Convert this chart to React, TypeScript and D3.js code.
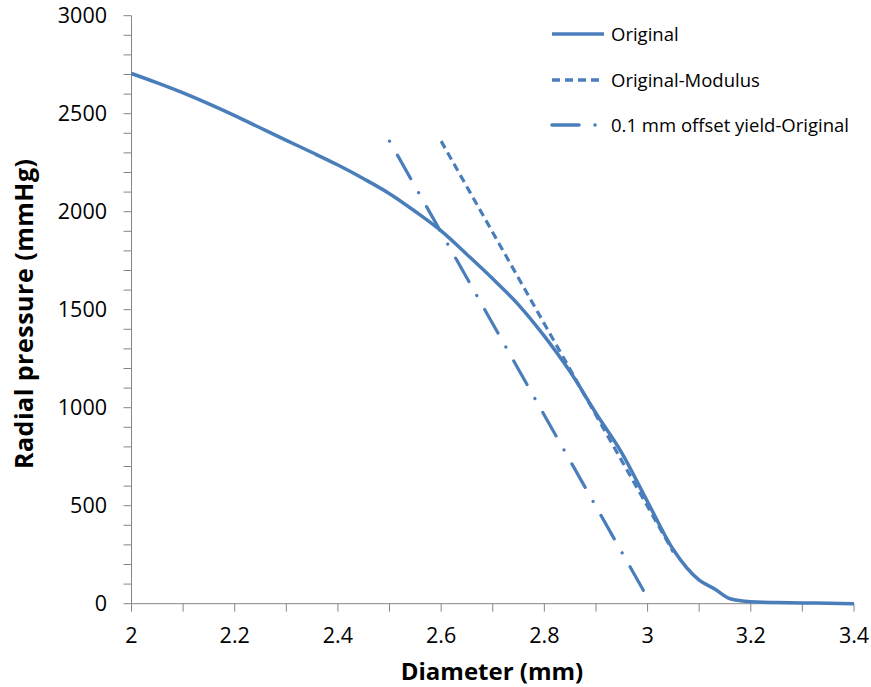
import React from "react";
import * as d3 from "d3";

const diameter = [2.0, 2.05, 2.1, 2.15, 2.2, 2.25, 2.3, 2.35, 2.4, 2.45, 2.5, 2.55, 2.6, 2.65, 2.7, 2.75, 2.8, 2.85, 2.9, 2.95, 3.0, 3.05, 3.1, 3.13, 3.16, 3.2, 3.25, 3.3, 3.35, 3.4];
const pressure = [2705, 2657, 2606, 2550, 2490, 2427, 2364, 2302, 2238, 2168, 2092, 2001, 1902, 1782, 1658, 1525, 1365, 1183, 972, 770, 520, 275, 120, 75, 25, 10, 6, 4, 2, 0];

const modulusX = [2.6, 3.05];
const modulusY = [2360, 263];
const yieldX = [2.5, 3.0];
const yieldY = [2360, 30];

const xTicks = [2, 2.2, 2.4, 2.6, 2.8, 3, 3.2, 3.4];
const yTicks = [0, 500, 1000, 1500, 2000, 2500, 3000];
const seriesNames = ["Original", "Original-Modulus", "0.1 mm offset yield-Original"];

const W = 871;
const H = 687;
const COLOR = "#4A7EBB";
const AXIS = "#868686";
const FONT = "'Open Sans', sans-serif";

export default function App() {
  const x = d3.scaleLinear().domain([2, 3.4]).range([131.5, 854]);
  const y = d3.scaleLinear().domain([0, 3000]).range([603.7, 15.7]);

  const line = d3
    .line<[number, number]>()
    .x((d) => x(d[0]))
    .y((d) => y(d[1]));
  const smooth = d3
    .line<[number, number]>()
    .x((d) => x(d[0]))
    .y((d) => y(d[1]))
    .curve(d3.curveMonotoneX);

  const orig = diameter.map((d, i) => [d, pressure[i]] as [number, number]);
  const mod = modulusX.map((d, i) => [d, modulusY[i]] as [number, number]);
  const yld = yieldX.map((d, i) => [d, yieldY[i]] as [number, number]);

  const xMinor = d3.range(0, 15).map((i) => 2 + i * 0.1);
  const yMinor = d3.range(0, 31).map((i) => i * 100);

  const styles = [
    { dash: undefined, cap: "butt" },
    { dash: "8,5", cap: "butt" },
    { dash: "27,16,0.1,16", cap: "round" },
  ];
  const legendY = [34, 80, 125];

  return (
    <svg width={W} height={H} style={{ display: "block", position: "absolute", left: 0, top: 0 }}>
      <rect width={W} height={H} fill="#fff" />
      {/* axes */}
      <line x1={x(2)} x2={x(2)} y1={y(0)} y2={y(3000)} stroke={AXIS} strokeWidth={1} />
      <line x1={x(2)} x2={x(3.4)} y1={y(0)} y2={y(0)} stroke={AXIS} strokeWidth={1} />
      {yMinor.map((v) => (
        <line key={"yt" + v} x1={x(2) - 8} x2={x(2)} y1={y(v)} y2={y(v)} stroke={AXIS} strokeWidth={1} />
      ))}
      {xMinor.map((v, i) => (
        <line key={"xt" + i} x1={x(v)} x2={x(v)} y1={y(0)} y2={y(0) + 8} stroke={AXIS} strokeWidth={1} />
      ))}
      {yTicks.map((v) => (
        <text key={"yl" + v} x={107} y={y(v)} dy="0.36em" textAnchor="end" fontFamily={FONT} fontSize={21.5} fill="#000">
          {v}
        </text>
      ))}
      {xTicks.map((v) => (
        <text key={"xl" + v} x={x(v)} y={643} textAnchor="middle" fontFamily={FONT} fontSize={21.5} fill="#000">
          {String(v)}
        </text>
      ))}
      <text x={492} y={680} textAnchor="middle" fontFamily={FONT} fontSize={24} fontWeight="bold" fill="#000">
        Diameter (mm)
      </text>
      <text
        transform={`translate(33,314) rotate(-90)`}
        textAnchor="middle"
        fontFamily={FONT}
        fontSize={25}
        fontWeight="bold"
        fill="#000"
        textLength={310}
        lengthAdjust="spacing"
      >
        Radial pressure (mmHg)
      </text>

      {/* series */}
      <path d={smooth(orig) || ""} fill="none" stroke={COLOR} strokeWidth={3.5} />
      <path d={line(mod) || ""} fill="none" stroke={COLOR} strokeWidth={3.2} strokeDasharray={styles[1].dash} />
      <path
        d={line(yld) || ""}
        fill="none"
        stroke={COLOR}
        strokeWidth={3.2}
        strokeDasharray={styles[2].dash}
        strokeDashoffset={43}
        strokeLinecap="round"
      />

      {/* legend */}
      {seriesNames.map((n, i) => (
        <g key={n}>
          <line
            x1={552}
            x2={i === 2 ? 599 : 604}
            y1={legendY[i]}
            y2={legendY[i]}
            stroke={COLOR}
            strokeWidth={3.5}
            strokeDasharray={styles[i].dash}
            strokeLinecap={styles[i].cap as any}
          />
          <text x={611} y={legendY[i]} dy="0.36em" fontFamily={FONT} fontSize={18.5} fill="#000">
            {n}
          </text>
        </g>
      ))}
    </svg>
  );
}
